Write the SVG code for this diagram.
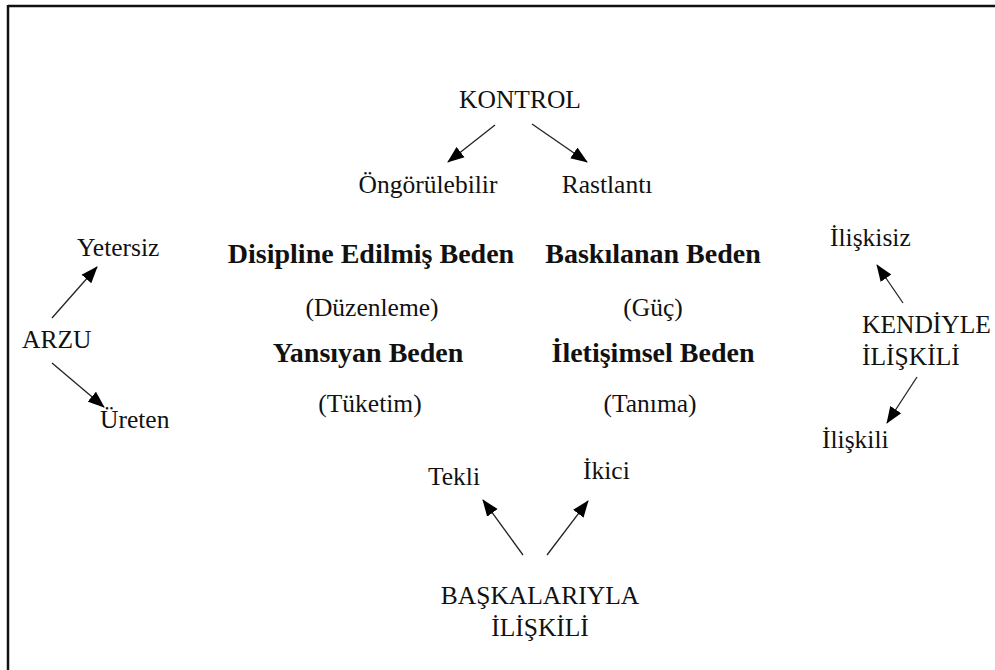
<svg xmlns="http://www.w3.org/2000/svg" width="995" height="670" viewBox="0 0 995 670">
<style>
text{font-family:"Liberation Serif","Times New Roman",serif;font-size:25.5px;fill:#111}
.b{font-weight:bold;font-size:28px}
.c{text-anchor:middle}
.ln{stroke:#222;stroke-width:1.3;fill:none;marker-end:url(#ah)}
</style>
<defs>
<marker id="ah" markerUnits="userSpaceOnUse" markerWidth="17" markerHeight="14" viewBox="0 0 17 14" refX="16" refY="7" orient="auto">
<path d="M0,0.5 L17,7 L0,13.5 Z" fill="#000"/>
</marker>
</defs>
<rect width="995" height="670" fill="#fff"/>
<g id="frame">
<line x1="8" y1="6" x2="995" y2="6" stroke="#111" stroke-width="2.5"/>
<line x1="8" y1="5" x2="8" y2="670" stroke="#111" stroke-width="2.5"/>
</g>
<g id="kontrol"><text class="c" x="520" y="108">KONTROL</text></g>
<g id="ongorulebilir"><text class="c" x="428" y="193">Öngörülebilir</text></g>
<g id="rastlanti"><text class="c" x="607" y="193">Rastlantı</text></g>
<g id="disipline"><text class="c b" x="371" y="263">Disipline Edilmiş Beden</text><text class="c" x="372" y="316">(Düzenleme)</text></g>
<g id="baskilanan"><text class="c b" x="653" y="263">Baskılanan Beden</text><text class="c" x="653" y="316">(Güç)</text></g>
<g id="yansiyan"><text class="c b" x="368" y="362">Yansıyan Beden</text><text class="c" x="370" y="412">(Tüketim)</text></g>
<g id="iletisimsel"><text class="c b" x="653" y="362">İletişimsel Beden</text><text class="c" x="650" y="412">(Tanıma)</text></g>
<g id="arzu"><text x="22" y="348">ARZU</text></g>
<g id="yetersiz"><text x="77" y="256">Yetersiz</text></g>
<g id="ureten"><text x="100" y="428">Üreten</text></g>
<g id="kendiyle"><text x="862" y="333">KENDİYLE</text><text x="862" y="365">İLİŞKİLİ</text></g>
<g id="iliskisiz"><text x="830" y="246">İlişkisiz</text></g>
<g id="iliskili"><text x="822" y="448">İlişkili</text></g>
<g id="baskalariyla"><text class="c" x="540" y="604">BAŞKALARIYLA</text><text class="c" x="540" y="636">İLİŞKİLİ</text></g>
<g id="tekli"><text x="428" y="485">Tekli</text></g>
<g id="ikici"><text x="583" y="479">İkici</text></g>
<g id="connectors">
<line class="ln" x1="495" y1="125" x2="448" y2="162"/>
<line class="ln" x1="532" y1="124" x2="587" y2="162"/>
<line class="ln" x1="52" y1="318" x2="97" y2="267"/>
<line class="ln" x1="52" y1="363" x2="104" y2="407"/>
<line class="ln" x1="903" y1="303" x2="877" y2="265"/>
<line class="ln" x1="917" y1="377" x2="887" y2="423"/>
<line class="ln" x1="523" y1="555" x2="483" y2="500"/>
<line class="ln" x1="547" y1="555" x2="588" y2="501"/>
</g>
</svg>
